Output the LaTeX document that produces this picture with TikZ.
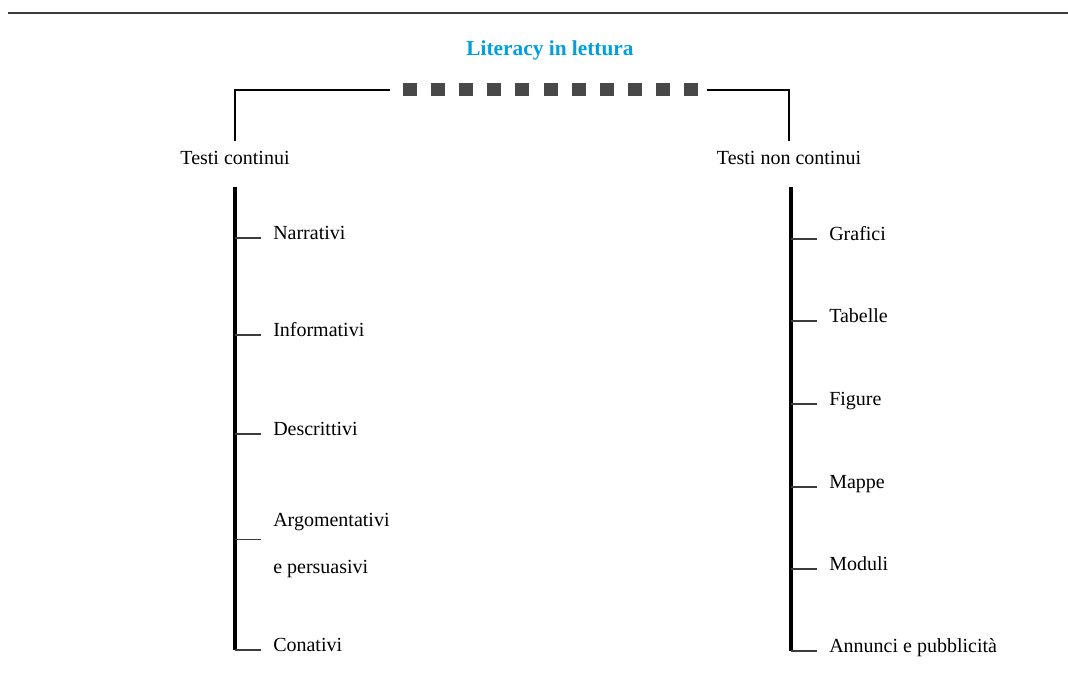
\documentclass[tikz,border=0pt]{standalone}
\usepackage{fontspec}
\setmainfont{Liberation Serif}
\usepackage{tikz}
\usepackage{xcolor}
\definecolor{TitleCyan}{RGB}{0,160,222}
\definecolor{SquareGray}{RGB}{72,72,72}
\definecolor{RuleGray}{RGB}{60,60,60}
\usetikzlibrary{positioning,calc}

\begin{document}
\begin{tikzpicture}[x=0.75pt, y=-0.75pt,
    title/.style={font=\bfseries\fontsize{16}{19}\selectfont, text=TitleCyan, inner sep=0pt},
    sq/.style={rectangle, fill=SquareGray, minimum width=10.5pt, minimum height=9.75pt, inner sep=0pt},
    head/.style={font=\fontsize{15}{18}\selectfont, inner xsep=2pt, inner ysep=8pt},
    item/.style={font=\fontsize{15}{18}\selectfont, anchor=west, inner xsep=9pt, inner ysep=0pt,
              text height=0.7em, text depth=0.5em},
    brk/.style={draw=black, line width=0.8pt},
    spine/.style={draw=black, line width=2.6pt},
    tick/.style={draw=RuleGray, line width=0.8pt}
]
    \useasboundingbox[fill=white] (0,0) rectangle (1068,673);
    \draw[RuleGray, line width=1.6pt] (8,13) -- (1068,13);

    \node[title] (lit) at (550,50) {Literacy in lettura};
    \foreach \i in {0,...,10}
        \node[sq] (sq\i) at ({410+28.1*\i},90) {};

    \node[head, anchor=base] (tc) at (235,165) {Testi continui};
    \node[head, anchor=base] (tnc) at (789,165) {Testi non continui};
    \draw[brk] (tc.north) |- ([xshift=-9.75pt]sq0.west);
    \draw[brk] (tnc.north) |- ([xshift=6.75pt]sq10.east);

    % testi continui
    \coordinate (ltop) at (235,187);
    \node[item] (narr) at (261,238) {Narrativi};
    \node[item] (info) at (261,335) {Informativi};
    \node[item] (descr) at (261,434) {Descrittivi};
    \node[item] (arg1) at (261,525) {Argomentativi};
    \node[item] (arg2) at (261,572) {e persuasivi};
    \node[item] (conat) at (261,650) {Conativi};
    \coordinate (argm) at ($(arg1.west)!0.3!(arg2.west)$);
    \draw[spine] (ltop) -- (ltop |- conat.west);
    \foreach \n in {narr,info,descr,conat}
        \draw[tick] (\n.west) -- (\n.west -| ltop);
    \draw[tick] (argm) -- (argm -| ltop);

    % testi non continui
    \coordinate (rtop) at (791,187);
    \node[item] (graf) at (817,239) {Grafici};
    \node[item] (tab) at (817,321) {Tabelle};
    \node[item] (fig) at (817,404) {Figure};
    \node[item] (mapp) at (817,487) {Mappe};
    \node[item] (mod) at (817,569) {Moduli};
    \node[item] (ann) at (817,651) {Annunci e pubblicità};
    \draw[spine] (rtop) -- (rtop |- ann.west);
    \foreach \n in {graf,tab,fig,mapp,mod,ann}
        \draw[tick] (\n.west) -- (\n.west -| rtop);
\end{tikzpicture}
\end{document}
